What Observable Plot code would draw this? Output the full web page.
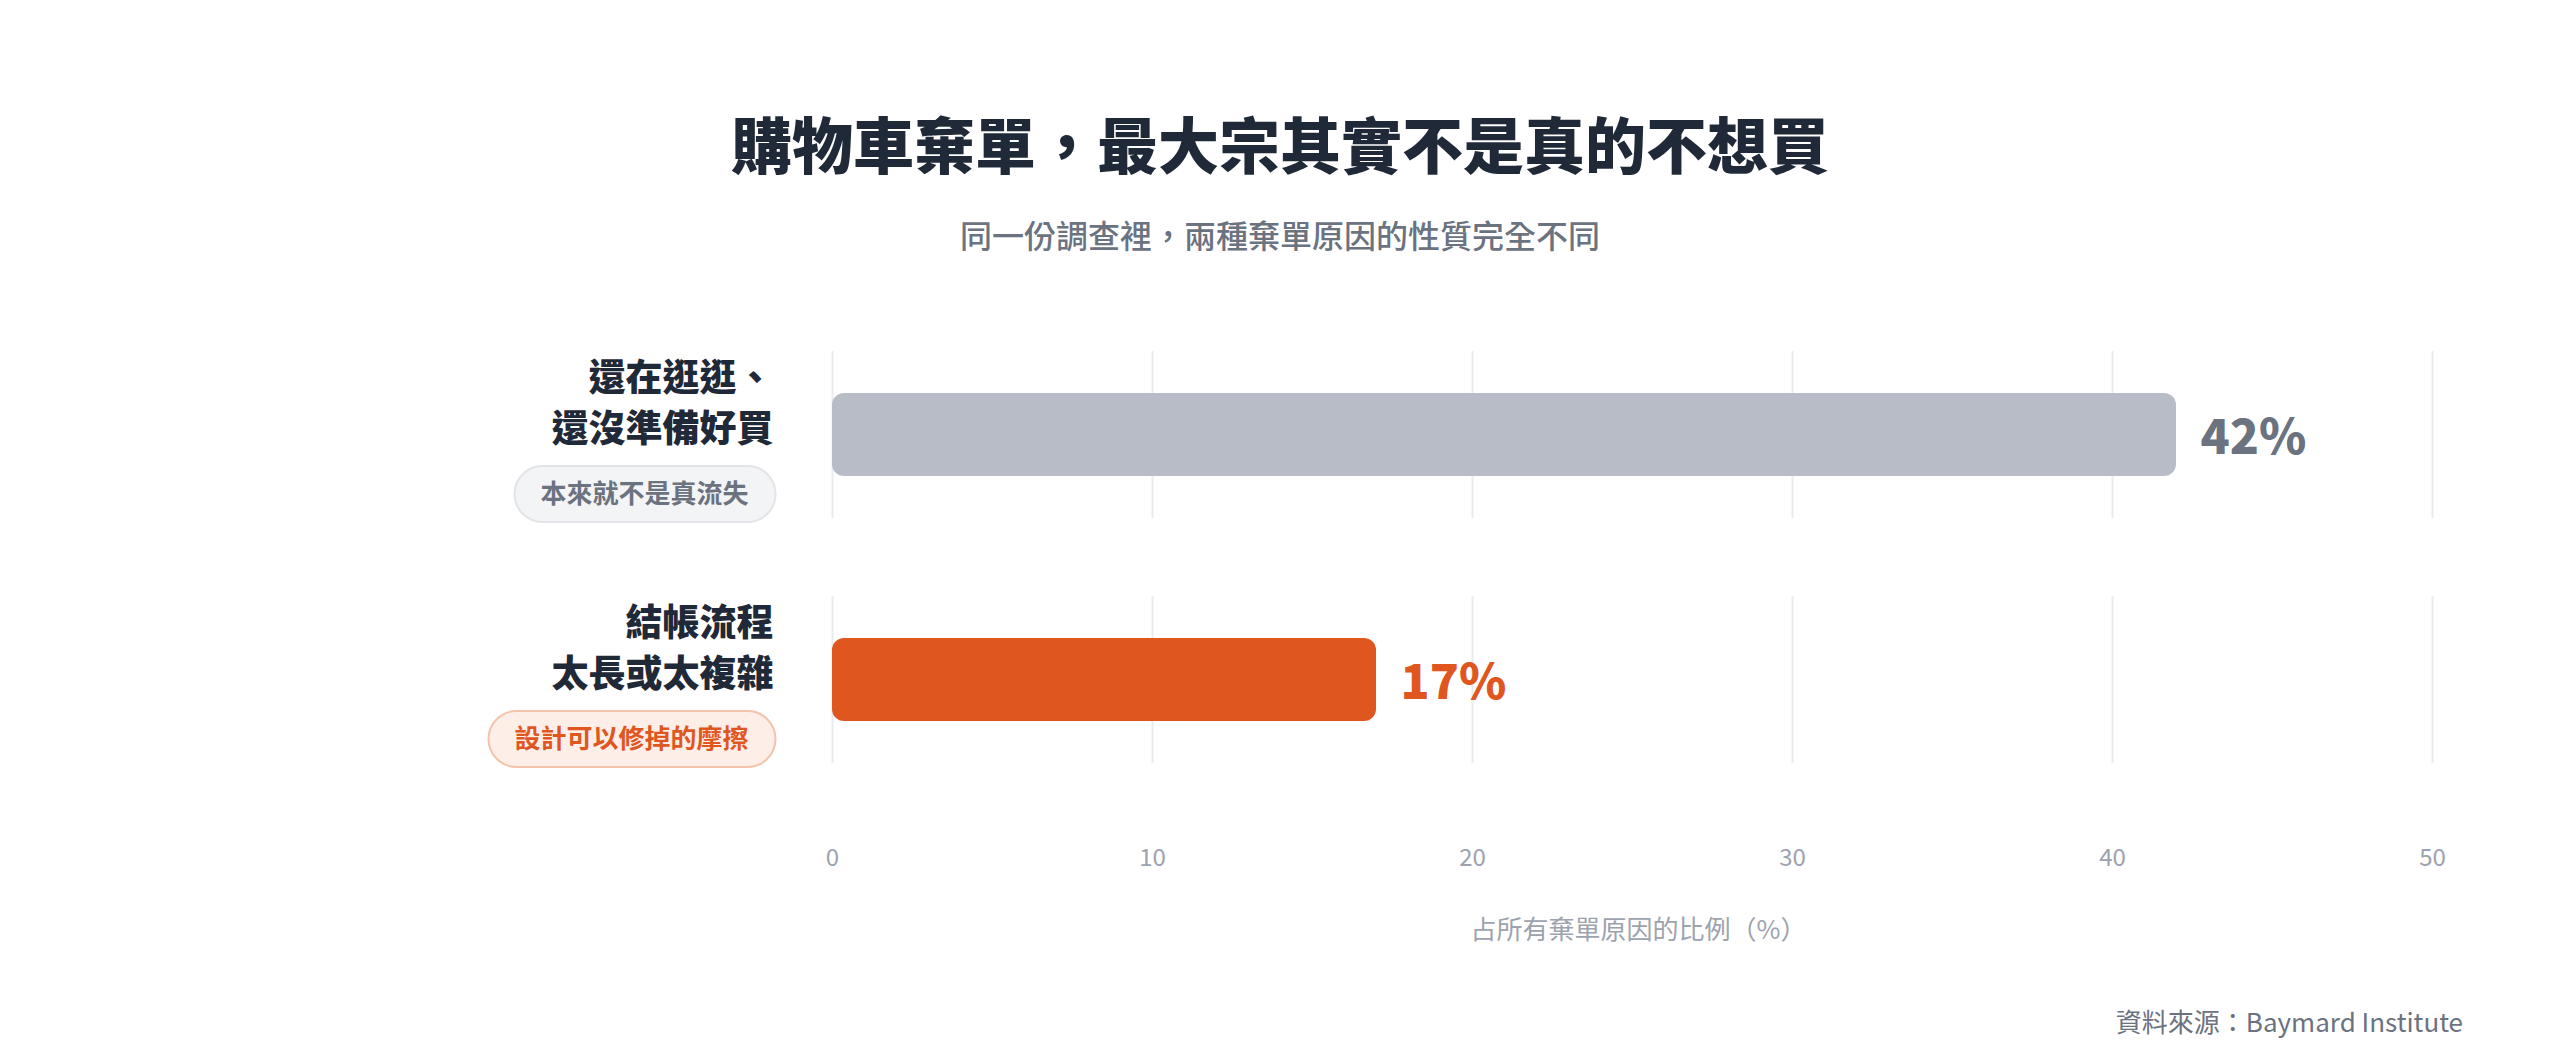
<!DOCTYPE html>
<html>
<head>
<meta charset="utf-8">
<script src="https://cdn.jsdelivr.net/npm/d3@7"></script>
<script src="https://cdn.jsdelivr.net/npm/@observablehq/plot@0.6"></script>
<style>
  html, body { margin: 0; padding: 0; background: #ffffff; }
  body { width: 2560px; height: 1060px; position: relative; overflow: hidden;
         font-family: "Noto Sans CJK TC", "Noto Sans", sans-serif; }
  #title { position: absolute; left: 0; top: 112px; width: 2560px; text-align: center;
           font-size: 61px; line-height: 1; font-weight: 900; color: #1f2937; margin: 0; }
  #subtitle { position: absolute; left: 0; top: 218px; width: 2560px; text-align: center;
              font-size: 32px; line-height: 1; font-weight: 500; color: #6b7280; margin: 0; }
  #chart { position: absolute; left: 0; top: 300px; }
  #source { position: absolute; right: 97px; top: 1008px; font-size: 26px; line-height: 1;
            color: #6b7280; font-weight: 400; }
</style>
</head>
<body>
<h1 id="title">購物車棄單，最大宗其實不是真的不想買</h1>
<p id="subtitle">同一份調查裡，兩種棄單原因的性質完全不同</p>
<div id="chart"></div>
<div id="source">資料來源：Baymard Institute</div>
<script>
// ---- data ----
const categories = ["還在逛逛、\n還沒準備好買", "結帳流程\n太長或太複雜"];
const values = [42, 17];
const tags = ["本來就不是真流失", "設計可以修掉的摩擦"];
const xTicks = [0, 10, 20, 30, 40, 50];
const xDomain = [0, 50];
const axisLabel = "占所有棄單原因的比例（%）";

// ---- styles ----
const barColors = ["#b8bcc6", "#e0561f"];
const valueColors = ["#6b7280", "#e0561f"];
const tagTextColors = ["#6b7280", "#e0561f"];
const tagFills = ["#f3f4f6", "#fdefe8"];
const tagStrokes = ["#e2e4e8", "#f3c3ab"];
const tagFont = 26;
const pillPadX = 26;
const pillH = 56;

const rows = categories.map((cat, i) => ({cat, value: values[i], tag: tags[i]}));

function pillRender(i) {
  return (index, scales, vals, dimensions, context, next) => {
    const g = next(index, scales, vals, dimensions, context);
    const cx = dimensions.marginLeft;
    for (const j of index) {
      const n = [...tags[i]].length;
      const w = n * tagFont + 2 * pillPadX + 1;
      const y0 = vals.y[j];
      d3.select(g).insert("rect", "text")
        .attr("x", cx + pillPadX + 1 - w)
        .attr("y", y0 - pillH / 2 - 1)
        .attr("width", w)
        .attr("height", pillH)
        .attr("rx", pillH / 2)
        .attr("fill", tagFills[i])
        .attr("stroke", tagStrokes[i])
        .attr("stroke-width", 2);
    }
    return g;
  };
}

const marks = [
  Plot.tickX(d3.cross(xTicks, categories), {
    x: d => d[0], y: d => d[1], stroke: "#e9ebee", strokeWidth: 2
  })
];

rows.forEach((r, i) => {
  marks.push(Plot.barX([r], {
    x: "value", y: "cat", fill: barColors[i], insetTop: 42, insetBottom: 42, rx: 12
  }));
  marks.push(Plot.text([r], {
    x: "value", y: "cat", text: d => `${d.value}%`, dx: 24, dy: 4, textAnchor: "start",
    fontSize: 48, fontWeight: 900, fill: valueColors[i]
  }));
  marks.push(Plot.text([r], {
    y: "cat", text: "tag", frameAnchor: "left", textAnchor: "end", dx: -84, dy: 60,
    fontSize: tagFont, fontWeight: 700, fill: tagTextColors[i], render: pillRender(i)
  }));
});

marks.push(Plot.text(rows, {
  y: "cat", text: "cat", frameAnchor: "left", textAnchor: "end", dx: -59, dy: -35,
  lineHeight: 1.4, fontSize: 37, fontWeight: 900, fill: "#1f2937"
}));

marks.push(Plot.axisX({
  ticks: xTicks, tickSize: 0, tickPadding: 55, fontSize: 24, color: "#9ca3af", label: null
}));

marks.push(Plot.text([axisLabel], {
  text: d => d, frameAnchor: "bottom", dx: 6, dy: 145, fontSize: 26, fill: "#9ca3af"
}));

const chart = Plot.plot({
  width: 2560,
  height: 680,
  marginLeft: 832,
  marginRight: 128,
  marginTop: 20,
  marginBottom: 187,
  x: {domain: xDomain},
  y: {domain: categories, paddingInner: 0.319, paddingOuter: 0.122, axis: null},
  style: {fontFamily: "'Noto Sans CJK TC', 'Noto Sans', sans-serif", background: "transparent"},
  marks
});
document.getElementById("chart").appendChild(chart);
</script>
</body>
</html>
